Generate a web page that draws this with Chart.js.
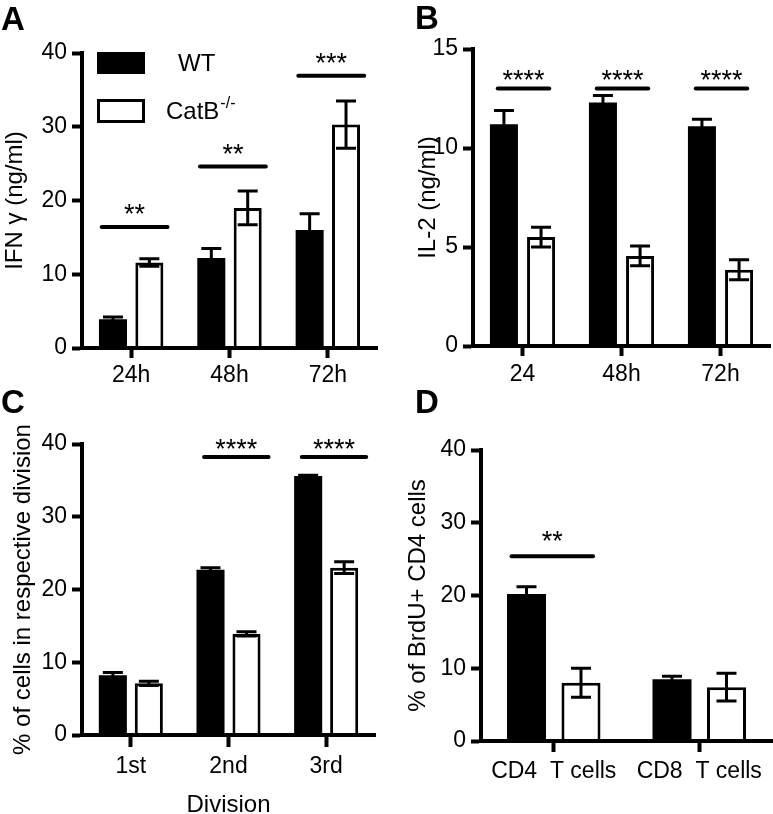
<!DOCTYPE html>
<html>
<head>
<meta charset="utf-8">
<title>CatB figure</title>
<script src="https://cdn.jsdelivr.net/npm/chart.js@4.4.1/dist/chart.umd.min.js"></script>
<style>
  html, body { margin: 0; padding: 0; background: #fff; }
  #fig { position: relative; width: 773px; height: 814px; overflow: hidden; }
  #fig canvas { position: absolute; }
  .letter { position: absolute; font: bold 33px "Liberation Sans", Arial, sans-serif; line-height: 33px; color: #000; }
</style>
</head>
<body>
<div id="fig">
  <canvas id="panelA" width="390" height="400" style="left:0;top:0;width:390px;height:400px"></canvas>
  <canvas id="panelB" width="383" height="400" style="left:390px;top:0;width:383px;height:400px"></canvas>
  <canvas id="panelC" width="390" height="414" style="left:0;top:400px;width:390px;height:414px"></canvas>
  <canvas id="panelD" width="383" height="414" style="left:390px;top:400px;width:383px;height:414px"></canvas>
  <div class="letter" style="left:1px;top:2px">A</div>
  <div class="letter" style="left:415px;top:1px">B</div>
  <div class="letter" style="left:1px;top:385px">C</div>
  <div class="letter" style="left:415px;top:385px">D</div>
</div>
<script>
// ============================================================================
// DATA (mean +/- SEM)
// ============================================================================

// A - IFN gamma
const aLabels = ['24h', '48h', '72h'];
const aWT = [3.9, 12.2, 16.0];
const aWTErr = [0.3, 1.3, 2.2];
const aKO = [11.6, 19.0, 30.3];
const aKOErr = [0.5, 2.3, 3.2];
const aSigIdx = [0, 1, 2];
const aSigY = [16.4, 24.6, 36.9];
const aSigText = ['**', '**', '***'];

// B - IL-2
const bLabels = ['24', '48h', '72h'];
const bWT = [11.2, 12.3, 11.1];
const bWTErr = [0.7, 0.35, 0.35];
const bKO = [5.5, 4.55, 3.85];
const bKOErr = [0.5, 0.5, 0.5];
const bSigIdx = [0, 1, 2];
const bSigY = [13.0, 13.0, 13.0];
const bSigText = ['****', '****', '****'];

// C - division
const cLabels = ['1st', '2nd', '3rd'];
const cWT = [8.2, 22.7, 35.6];
const cWTErr = [0.4, 0.3, 0.1];
const cKO = [7.1, 13.9, 23.0];
const cKOErr = [0.3, 0.3, 0.8];
const cSigIdx = [1, 2];
const cSigY = [38.2, 38.2];
const cSigText = ['****', '****'];

// D - BrdU
const dLabels = ['CD4  T cells', 'CD8  T cells'];
const dWT = [20.2, 8.5];
const dWTErr = [1.0, 0.4];
const dKO = [8.0, 7.4];
const dKOErr = [2.0, 1.9];
const dSigIdx = [0];
const dSigY = [25.4];
const dSigText = ['**'];

const FONT = "'Liberation Sans', Arial, sans-serif";
Chart.defaults.font.family = FONT;
Chart.defaults.color = '#000';

// ============================================================================
// PLUGINS: error bars, significance lines, in-plot legend
// ============================================================================
const barExtras = {
  id: 'barExtras',
  afterDatasetsDraw(chart, args, opts) {
    const c = chart.ctx;
    const x = chart.scales.x, y = chart.scales.y;
    c.save();
    c.strokeStyle = '#000';
    c.lineWidth = 3;

    // error bars
    chart.data.datasets.forEach((ds, i) => {
      const meta = chart.getDatasetMeta(i);
      meta.data.forEach((bar, j) => {
        const v = ds.data[j], e = ds.err[j];
        const yTop = y.getPixelForValue(v + e);
        const yBot = y.getPixelForValue(v - e);
        const half = opts.capWidth / 2;
        c.beginPath();
        c.moveTo(bar.x, yTop); c.lineTo(bar.x, yBot);
        c.moveTo(bar.x - half, yTop); c.lineTo(bar.x + half, yTop);
        c.moveTo(bar.x - half, yBot); c.lineTo(bar.x + half, yBot);
        c.stroke();
      });
    });

    // significance lines + stars
    const catW = x.width / chart.data.labels.length;
    c.lineWidth = 4;
    c.lineCap = 'round';
    c.fillStyle = '#000';
    c.font = opts.starSize + 'px ' + FONT;
    c.textAlign = 'center';
    c.textBaseline = 'alphabetic';
    opts.sigIdx.forEach((idx, k) => {
      const cx = x.getPixelForValue(idx);
      const x0 = cx + opts.sigFrom * catW;
      const x1 = cx + opts.sigTo * catW;
      const py = y.getPixelForValue(opts.sigY[k]);
      c.beginPath(); c.moveTo(x0, py); c.lineTo(x1, py); c.stroke();
      c.fillText(opts.sigText[k], (x0 + x1) / 2, py - opts.starGap + 0.57 * opts.starSize);
    });

    // legend (panel A only)
    if (opts.legend) {
      const a = chart.chartArea;
      const bx = a.left + 15, bw = 48;
      c.fillStyle = '#000';
      c.fillRect(bx, a.top - 1, bw, 22);
      c.lineWidth = 3;
      c.lineCap = 'butt';
      c.fillStyle = '#fff';
      c.fillRect(bx + 1.5, a.top + 47.5, bw - 3, 21);
      c.strokeRect(bx + 1.5, a.top + 47.5, bw - 3, 21);
      c.fillStyle = '#000';
      c.textAlign = 'left';
      c.textBaseline = 'middle';
      c.font = '24px ' + FONT;
      c.fillText('WT', a.left + 96, a.top + 11);
      c.fillText('CatB', a.left + 84, a.top + 59);
      const w = c.measureText('CatB').width;
      c.font = '16px ' + FONT;
      c.fillText('-/-', a.left + 84 + w + 1, a.top + 51);
    }
    c.restore();
  }
};

// ============================================================================
// PANEL BUILDER
// ============================================================================
function buildPanel(id, p) {
  const ctx = document.getElementById(id);
  return new Chart(ctx, {
    type: 'bar',
    data: {
      labels: p.labels,
      datasets: [
        { label: 'WT', data: p.wt, err: p.wtErr, backgroundColor: '#000', borderColor: '#000', borderWidth: 0 },
        { label: 'CatB-/-', data: p.ko, err: p.koErr, backgroundColor: '#fff', borderColor: '#000', borderWidth: 3 }
      ]
    },
    options: {
      responsive: false,
      animation: false,
      events: [],
      datasets: { bar: { categoryPercentage: p.catPct, barPercentage: p.barPct } },
      layout: { padding: p.pad },
      plugins: {
        legend: { display: false },
        tooltip: { enabled: false },
        barExtras: {
          capWidth: 20,
          sigIdx: p.sigIdx, sigY: p.sigY, sigText: p.sigText,
          sigFrom: p.sigFrom, sigTo: p.sigTo,
          starSize: 27, starGap: p.starGap,
          legend: !!p.legend
        }
      },
      scales: {
        x: {
          grid: { display: true, drawOnChartArea: false, offset: false, tickLength: p.xTick, tickWidth: 4, tickColor: '#000' },
          border: { display: true, width: 4, color: '#000', z: 1 },
          ticks: { color: '#000', font: { size: 23 }, padding: p.xPad, maxRotation: 0, autoSkip: false },
          title: p.xTitle ? { display: true, text: p.xTitle, color: '#000', font: { size: 24, lineHeight: 0.75 }, padding: 0 } : { display: false },
          afterFit: s => { s.height = p.xHeight; }
        },
        y: {
          min: 0, max: p.yMax,
          grid: { display: true, drawOnChartArea: false, tickLength: 10, tickWidth: 4, tickColor: '#000' },
          border: { display: true, width: 4, color: '#000', z: 1 },
          ticks: { stepSize: p.yStep, color: '#000', font: { size: 23 }, padding: 5 },
          title: { display: true, text: p.yTitle, color: '#000', font: { size: 24, lineHeight: 1.2 }, padding: 0 },
          afterFit: s => { s.width = p.yWidth; }
        }
      }
    },
    plugins: [barExtras]
  });
}

function renderFigure() {
  // 1. IFN gamma
  buildPanel('panelA', {
    labels: aLabels, wt: aWT, wtErr: aWTErr, ko: aKO, koErr: aKOErr,
    sigIdx: aSigIdx, sigY: aSigY, sigText: aSigText, sigFrom: -0.30, sigTo: 0.37, starGap: 19,
    yMax: 40, yStep: 10, yTitle: 'IFN γ (ng/ml)',
    pad: { left: 1, top: 53, right: 13, bottom: 0 }, yWidth: 81, xHeight: 52,
    xTick: 10, xPad: 4, catPct: 0.74, barPct: 0.77, legend: true
  });

  // 2. IL-2
  buildPanel('panelB', {
    labels: bLabels, wt: bWT, wtErr: bWTErr, ko: bKO, koErr: bKOErr,
    sigIdx: bSigIdx, sigY: bSigY, sigText: bSigText, sigFrom: -0.25, sigTo: 0.27, starGap: 15,
    yMax: 15, yStep: 5, yTitle: 'IL-2 (ng/ml)',
    pad: { left: 24, top: 49, right: 3, bottom: 0 }, yWidth: 59, xHeight: 54,
    xTick: 10, xPad: 5, catPct: 0.75, barPct: 0.755
  });

  // 3. division
  buildPanel('panelC', {
    labels: cLabels, wt: cWT, wtErr: cWTErr, ko: cKO, koErr: cKOErr,
    sigIdx: cSigIdx, sigY: cSigY, sigText: cSigText, sigFrom: -0.25, sigTo: 0.41, starGap: 14,
    yMax: 40, yStep: 10, yTitle: '% of cells in respective division', xTitle: 'Division',
    pad: { left: 9, top: 44, right: 15, bottom: 0 }, yWidth: 73, xHeight: 79,
    xTick: 12, xPad: 6, catPct: 0.737, barPct: 0.78
  });

  // 4. BrdU
  buildPanel('panelD', {
    labels: dLabels, wt: dWT, wtErr: dWTErr, ko: dKO, koErr: dKOErr,
    sigIdx: dSigIdx, sigY: dSigY, sigText: dSigText, sigFrom: -0.29, sigTo: 0.27, starGap: 22,
    yMax: 40, yStep: 10, yTitle: '% of BrdU+ CD4 cells',
    pad: { left: 14, top: 50, right: 1, bottom: 0 }, yWidth: 77, xHeight: 73,
    xTick: 11, xPad: 6, catPct: 0.749, barPct: 0.716
  });
}

if (document.readyState === 'loading') {
  document.addEventListener('DOMContentLoaded', renderFigure);
} else {
  renderFigure();
}
</script>
</body>
</html>
